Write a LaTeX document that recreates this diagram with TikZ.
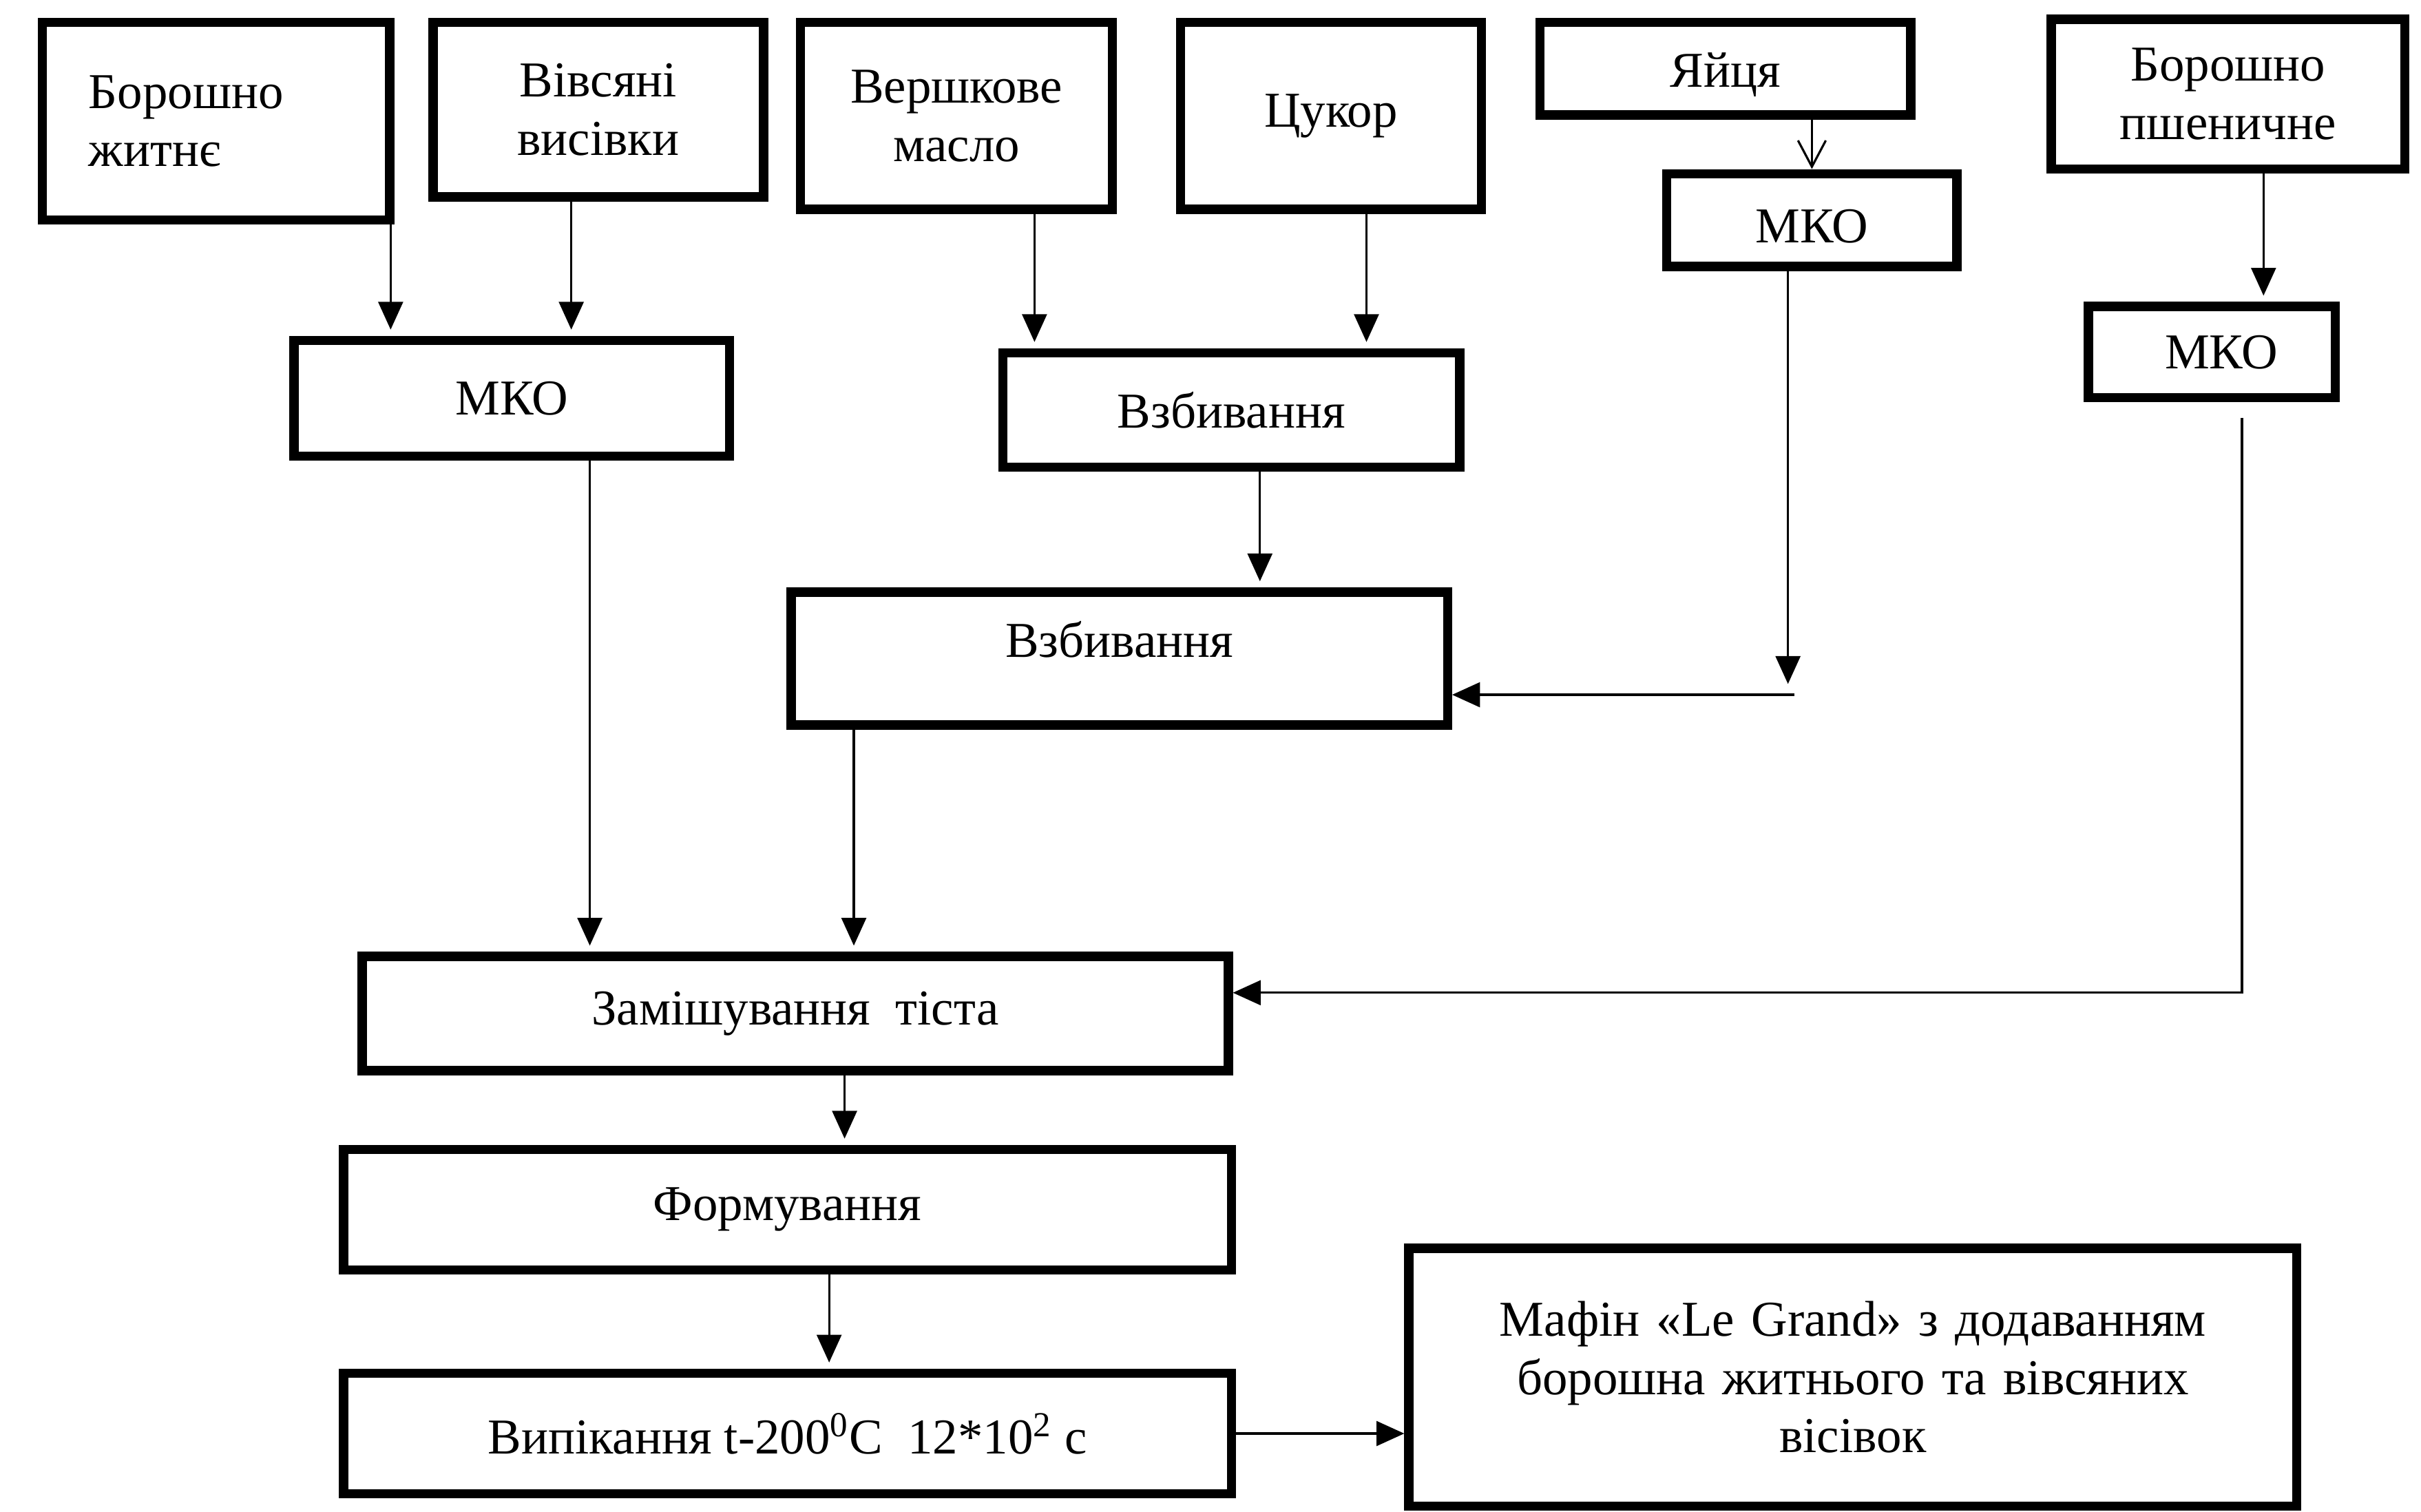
\documentclass[tikz,border=0pt]{standalone}
\usepackage{fontspec}
\setmainfont{Liberation Serif}
\usepackage{tikz}
\usetikzlibrary{arrows.meta, positioning}

\begin{document}
\begin{tikzpicture}[x=0.2mm, y=-0.2mm,
		box/.style={draw, line width=1.2mm, align=center, inner sep=0pt, font=\fontsize{18.5}{21.5}\selectfont},
		arr/.style={line width=0.8pt, arrows={-Triangle[length=3.6mm, width=3.2mm]}, shorten >=0.8mm},
		barb/.style={line width=0.8pt, arrows={-Straight Barb[length=3.4mm, width=3.6mm]}}]

		\useasboundingbox (0,0) rectangle (1568,979);

		\node[box, text width=33mm, inner xsep=6mm, align=left, minimum height=25.6mm] (rye) at (140,78.5) {Борошно\\житнє};
		\node[box, minimum width=42.8mm, minimum height=22.6mm] (oat) at (387.5,71) {Вівсяні\\висівки};
		\node[box, minimum width=40.4mm, minimum height=24.2mm] (butter) at (619.5,75) {Вершкове\\масло};
		\node[box, minimum width=39mm, minimum height=24.2mm] (sugar) at (862,75) {Цукор};
		\node[box, minimum width=48mm, minimum height=12mm, text height=6mm] (eggs) at (1117.5,44.5) {Яйця};
		\node[box, minimum width=45.8mm, minimum height=19.4mm] (wheat) at (1443,61) {Борошно\\пшеничне};

		\node[box, minimum width=56.4mm, minimum height=15mm] (mko1) at (331.5,258) {МКО};
		\node[box, minimum width=59.2mm, minimum height=14.8mm] (whip1) at (797.5,265.5) {Взбивання};
		\node[box, minimum width=37.6mm, minimum height=12mm, text height=6mm] (mko2) at (1173.5,142.5) {МКО};
		\node[box, minimum width=32mm, minimum height=11.8mm] (mko3) at (1432.5,228) {\hspace{2.5mm}МКО};
		\node[box, minimum width=85mm, minimum height=17.2mm, text depth=5mm] (whip2) at (725,426.5) {Взбивання};

		\node[box, minimum width=112.2mm, minimum height=14.8mm] (knead) at (515,656.5) {Замішування~ тіста};
		\node[box, minimum width=115mm, minimum height=15.6mm] (forming) [below = 9mm of knead, xshift=-1mm] {Формування};
		\node[box, minimum width=115mm, minimum height=15.6mm] (baking) [below = 12.2mm of forming] {Випікання t-200\textsuperscript{0}C~ 12*10\textsuperscript{2} с};
		\node[box, text width=100mm, minimum width=115mm, minimum height=33.4mm] (muffin) at (1200,892) {Мафін «Le Grand» з додаванням\\борошна житнього та вівсяних\\вісівок};

		\coordinate (eggend) at (1158,443);
		\coordinate (eggturn) at (1162,450);

		\draw[arr] ([xshift=-0.5mm]rye.south east) -- ([xshift=-0.5mm]rye.south east |- mko1.north);
		\draw[arr] ([xshift=-3.5mm]oat.south) -- ([xshift=-3.5mm]oat.south |- mko1.north);
		\draw[arr] ([xshift=10.1mm]butter.south) -- ([xshift=10.1mm]butter.south |- whip1.north);
		\draw[arr] ([xshift=4.6mm]sugar.south) -- ([xshift=4.6mm]sugar.south |- whip1.north);
		\draw[barb] (mko2.north |- eggs.south) -- (mko2.north);
		\draw[arr] ([xshift=4.6mm]wheat.south) -- ([xshift=4.6mm]wheat.south |- mko3.north);
		\draw[arr] ([xshift=10.1mm]mko1.south) -- ([xshift=10.1mm]mko1.south |- knead.north);
		\draw[arr] ([xshift=3.7mm]whip1.south) -- ([xshift=3.7mm]whip1.south |- whip2.north);
		\draw[arr, shorten >=0pt] (mko2.south -| eggend) -- (eggend);
		\draw[arr, shorten >=0pt] (eggturn) -- (eggturn -| whip2.east);
		\draw[arr] ([xshift=-34.4mm]whip2.south) -- ([xshift=-34.4mm]whip2.south |- knead.north);
		\draw[arr, shorten >=0pt] ([xshift=3.9mm, yshift=-2mm]mko3.south) |- ([yshift=2.7mm]knead.east);
		\draw[arr] ([xshift=6.4mm]knead.south) -- ([xshift=6.4mm]knead.south |- forming.north);
		\draw[arr] ([xshift=5.4mm]forming.south) -- ([xshift=5.4mm]forming.south |- baking.north);
		\draw[arr, shorten >=0pt] (baking.east) -- (baking.east -| muffin.west);
	\end{tikzpicture}
\end{document}
